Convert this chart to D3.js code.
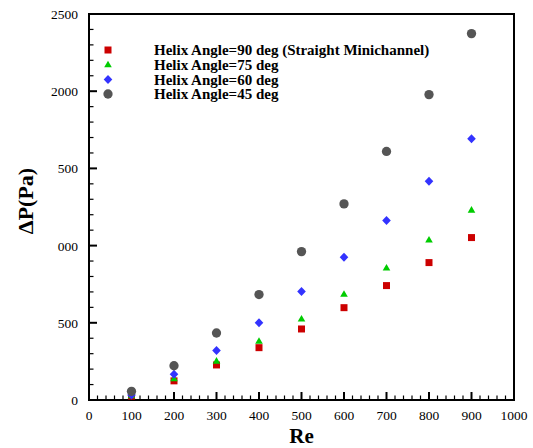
<!DOCTYPE html>
<html><head><meta charset="utf-8">
<script src="https://cdn.jsdelivr.net/npm/d3@7"></script>
<style>body{margin:0;background:#fff}svg{display:block}</style>
</head><body>
<script>
const re = [100,200,300,400,500,600,700,800,900];
const angle90 = [25,124,227,339,460,598,741,890,1052];
const angle75 = [28,138,252,381,525,685,855,1037,1230];
const angle60 = [32,167,321,501,702,925,1162,1417,1692];
const angle45 = [56,222,434,683,961,1270,1610,1978,2373];
const seriesNames = ["Helix Angle=90 deg (Straight Minichannel)","Helix Angle=75 deg","Helix Angle=60 deg","Helix Angle=45 deg"];
const xTicks = [0,100,200,300,400,500,600,700,800,900,1000];
const yTicks = [0,500,1000,1500,2000,2500];
const yTickLabels = ["0","500","000","500","2000","2500"];

const W=533,H=448;
const m={l:89,r:514,t:14,b:400};
const x=d3.scaleLinear().domain([0,1000]).range([m.l,m.r]);
const y=d3.scaleLinear().domain([0,2500]).range([m.b,m.t]);
const svg=d3.select("body").append("svg").attr("width",W).attr("height",H);
const font="'Liberation Serif','Times New Roman',serif";

const g=svg.append("g");
d3.range(0,1001,20).forEach(v=>{
  const major=v%100===0;
  g.append("line").attr("x1",x(v)).attr("x2",x(v)).attr("y1",m.b).attr("y2",m.b-(major?8:4.5))
   .attr("stroke","#000").attr("stroke-width",major?2:1.2);
});
d3.range(0,2501,100).forEach(v=>{
  const major=v%500===0;
  g.append("line").attr("x1",m.l).attr("x2",m.l+(major?8:4.5)).attr("y1",y(v)).attr("y2",y(v))
   .attr("stroke","#000").attr("stroke-width",major?2:1.2);
});
svg.append("rect").attr("x",m.l).attr("y",m.t).attr("width",m.r-m.l).attr("height",m.b-m.t)
  .attr("fill","none").attr("stroke","#000").attr("stroke-width",2);

svg.append("g").selectAll("text").data(xTicks).join("text")
  .attr("x",d=>x(d)).attr("y",420).attr("text-anchor","middle")
  .attr("font-family",font).attr("font-size",13.5).text(d=>d);
svg.append("g").selectAll("text").data(yTicks).join("text")
  .attr("x",78).attr("y",d=>y(d)+5).attr("text-anchor","end")
  .attr("font-family",font).attr("font-size",13.5).text((d,i)=>yTickLabels[i]);

svg.append("text").attr("x",x(500)).attr("y",443).attr("text-anchor","middle")
  .attr("font-family",font).attr("font-weight","bold").attr("font-size",21).text("Re");
svg.append("text").attr("transform","translate(33,201) rotate(-90)").attr("text-anchor","middle")
  .attr("font-family",font).attr("font-weight","bold").attr("font-size",22).text("ΔP(Pa)");

const colors=["#cc0000","#00cc00","#3333ff","#555555"];
const symPaths=[
  "M-3.5,-3.5H3.5V3.5H-3.5Z",
  "M0,-4L3.8,2.6H-3.8Z",
  "M0,-4.5L4.3,0L0,4.5L-4.3,0Z",
  d3.symbol().type(d3.symbolCircle).size(68)()
];
const data=[angle90,angle75,angle60,angle45];
data.forEach((arr,i)=>{
  svg.append("g").selectAll("path").data(arr).join("path")
    .attr("d",symPaths[i]).attr("fill",colors[i])
    .attr("transform",(d,j)=>`translate(${x(re[j])},${y(d)})`);
});

const ly=[50,64.7,79.5,94];
seriesNames.forEach((n,i)=>{
  svg.append("path").attr("d",symPaths[i]).attr("fill",colors[i]).attr("transform",`translate(108,${ly[i]})`);
  svg.append("text").attr("x",154).attr("y",ly[i]+5).attr("font-family",font).attr("font-weight","bold")
    .attr("font-size",15).text(n);
});
</script>
</body></html>
